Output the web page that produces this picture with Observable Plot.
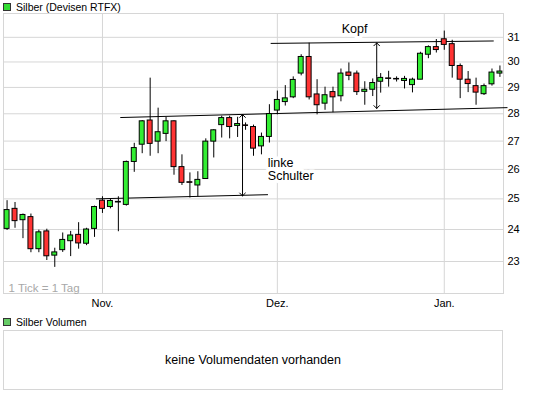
<!DOCTYPE html>
<html><head><meta charset="utf-8">
<script src="https://cdn.jsdelivr.net/npm/d3@7"></script>
<script src="https://cdn.jsdelivr.net/npm/@observablehq/plot@0.6"></script>
<style>
body{margin:0;background:#fff;font-family:"Liberation Sans",Arial,sans-serif;}
#wrap{position:relative;width:545px;height:398px;overflow:hidden;}
.leg{position:relative;height:11px;}
.sq{position:absolute;left:3px;top:3px;width:6px;height:6px;border:1px solid #333;}
.lt{position:absolute;left:16px;top:1px;font-size:10.5px;line-height:12px;color:#000;white-space:nowrap;}
#vol{position:relative;height:88px;}
#volbox{position:absolute;left:3px;top:20px;width:498px;height:58px;border:1px solid #d6d6d6;display:flex;align-items:center;justify-content:center;font-size:12.5px;color:#000;}
</style></head><body>
<div id="wrap">
  <div class="leg"><div class="sq" style="background:#33dd33"></div><div class="lt">Silber (Devisen RTFX)</div></div>
  <div id="chart"></div>
  <div id="vol">
    <div class="sq" style="top:8px;background:#66cc66"></div>
    <div class="lt" style="top:6px">Silber Volumen</div>
    <div id="volbox">keine Volumendaten vorhanden</div>
  </div>
</div>
<script>
// Daily candles (trading days, Oct -> Jan)
const open  = [24.02,24.67,24.30,24.40,23.38,23.94,23.18,23.35,23.63,23.83,23.55,24.02,24.94,24.73,24.88,24.80,26.26,26.87,27.75,26.98,27.26,27.72,26.08,25.56,25.45,25.67,26.98,27.58,27.84,27.55,27.57,27.51,26.81,27.15,28.12,28.44,28.62,29.54,30.20,28.73,28.38,28.82,28.66,29.58,29.54,28.83,28.91,29.22,29.35,29.33,29.25,29.09,29.30,30.29,30.60,30.92,30.72,29.84,29.30,29.05,28.74,29.12,29.54];
const high  = [24.94,24.88,24.50,24.50,23.98,24.01,23.41,23.89,23.94,24.22,24.04,24.76,25.07,24.98,25.07,26.29,26.92,27.75,29.36,28.21,27.87,27.74,26.51,25.88,25.92,27.08,27.41,27.91,27.91,27.87,27.66,27.58,27.29,28.34,28.86,29.07,29.41,30.29,30.76,29.30,29.01,29.01,29.72,29.96,29.64,29.22,29.33,29.54,29.63,29.41,29.43,29.36,30.39,30.65,30.91,31.26,30.88,29.92,29.62,29.36,29.13,29.72,29.84];
const low   = [23.97,24.04,23.71,23.27,23.27,23.03,22.82,23.28,23.15,23.38,23.49,23.75,24.52,24.67,23.93,24.76,25.90,26.55,26.46,26.55,26.98,25.80,25.45,25.03,25.07,25.67,26.40,27.11,27.08,27.13,27.39,26.46,26.51,26.93,27.96,28.29,28.57,29.45,28.52,27.96,28.13,28.04,28.45,29.26,28.69,28.32,28.65,28.78,29.01,29.21,28.94,28.79,29.30,30.13,30.36,30.47,29.36,28.57,28.80,28.32,28.69,29.05,29.39];
const close = [24.63,24.27,24.47,23.38,23.91,23.16,23.28,23.67,23.81,23.56,24.00,24.73,24.67,24.93,24.90,26.26,26.75,27.72,26.90,27.32,27.72,26.08,25.54,25.54,25.64,26.98,27.39,27.84,27.51,27.62,27.55,26.73,27.15,27.99,28.52,28.58,29.29,30.20,28.62,28.32,28.70,28.62,29.54,29.45,28.82,28.91,29.17,29.37,29.33,29.31,29.33,29.30,30.33,30.60,30.48,30.69,29.84,29.30,29.13,28.80,29.05,29.58,29.62];

// Axis ticks
const xTickIndex  = [12, 34, 55];
const xTickLabels = ["Nov.", "Dez.", "Jan."];
const yTicks = [23, 24, 25, 26, 27, 28, 29, 30, 31];

// Chart-pattern annotations (day index, price)
const trendX1 = [11.19, 14.24, 33.16];
const trendY1 = [25.00, 27.86, 30.75];
const trendX2 = [32.82, 62.95, 61.22];
const trendY2 = [25.14, 28.23, 30.85];
const arrowX   = [29.62, 46.5];
const arrowTop = [27.97, 30.77];
const arrowBot = [25.10, 28.20];
const labelX    = [32.8, 42.1];
const labelY    = [26.38, 31.54];
const labelText = ["linke\nSchulter", "Kopf"];

const rows = open.map((o, i) => ({i, o, h: high[i], l: low[i], c: close[i]}));
const trends = trendX1.map((x, k) => ({x1: x, y1: trendY1[k], x2: trendX2[k], y2: trendY2[k]}));
const arrows = arrowX.map((x, k) => ({x, top: arrowTop[k], bot: arrowBot[k], mid: Math.sqrt(arrowTop[k] * arrowBot[k])}));
const labels = labelX.map((x, k) => ({x, y: labelY[k], text: labelText[k]}));

const green = "#33ee33", red = "#ff3333", gridColor = "#d6d6d6";

const chart = Plot.plot({
  width: 545, height: 299,
  marginTop: 2, marginBottom: 17, marginLeft: 3, marginRight: 42,
  style: {fontFamily: '"Liberation Sans", Arial, sans-serif', fontSize: "11px", background: "white", overflow: "visible", color: "black"},
  x: {type: "linear", domain: [-0.45, 62.45], label: null},
  y: {type: "log", domain: [22.04, 32], label: null},
  marks: [
    Plot.gridY(yTicks, {stroke: gridColor, strokeOpacity: 1}),
    Plot.gridX(xTickIndex, {stroke: gridColor, strokeOpacity: 1}),
    Plot.frame({stroke: gridColor}),
    Plot.text(["1 Tick = 1 Tag"], {frameAnchor: "bottom-left", dx: 5, dy: -1.5, fill: "#a8a8a8", fontSize: 11.5}),
    Plot.axisY(yTicks, {anchor: "right", tickSize: 0, tickPadding: 4, tickFormat: d => String(d), fontSize: 11}),
    Plot.axisX(xTickIndex, {anchor: "bottom", tickSize: 0, tickPadding: 6, tickFormat: d => xTickLabels[xTickIndex.indexOf(d)], fontSize: 11}),
    Plot.text(labels, {x: "x", y: "y", text: "text", textAnchor: "start", lineAnchor: "top", lineHeight: 1.0, fontSize: 12.5, fill: "black", stroke: "white", strokeWidth: 7}),
    Plot.link(trends, {x1: "x1", y1: "y1", x2: "x2", y2: "y2", stroke: "black", strokeWidth: 1}),
    Plot.arrow(arrows, {x1: "x", x2: "x", y1: "mid", y2: "top", stroke: "black", strokeWidth: 1, headAngle: 90, headLength: 6}),
    Plot.arrow(arrows, {x1: "x", x2: "x", y1: "mid", y2: "bot", stroke: "black", strokeWidth: 1, headAngle: 90, headLength: 6}),
    Plot.ruleX(rows, {x: "i", y1: "l", y2: "h", stroke: "black", strokeWidth: 1}),
    Plot.rect(rows, {x1: d => d.i - 0.5, x2: d => d.i + 0.5, y1: "o", y2: "c", insetLeft: 1.5, insetRight: 1.5,
      fill: d => d.c >= d.o ? green : red, stroke: "black", strokeWidth: 1})
  ]
});
document.getElementById("chart").appendChild(chart);
</script>
</body></html>
